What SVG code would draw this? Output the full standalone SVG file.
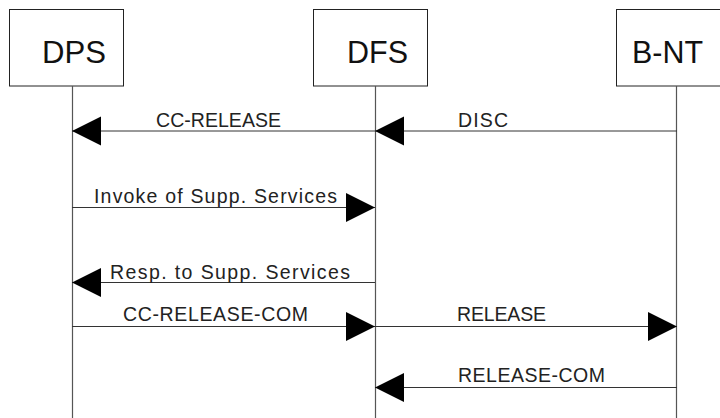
<svg xmlns="http://www.w3.org/2000/svg" width="720" height="418" viewBox="0 0 720 418">
<style>
.box{fill:#fff;stroke:#222;stroke-width:1}
.life{stroke:#555;stroke-width:1.2}
.msg{stroke:#333;stroke-width:1;fill:none;marker-end:url(#ah)}
.ttl{font-family:"Liberation Sans",Arial,sans-serif;font-size:31px;fill:#111}
.lbl{font-family:"Liberation Sans",Arial,sans-serif;font-size:19.5px;fill:#222}
</style>
<defs>
<marker id="ah" markerUnits="userSpaceOnUse" markerWidth="30" markerHeight="30" refX="29" refY="14.5" orient="auto" viewBox="0 0 30 30">
<path d="M0,0 L29,14.5 L0,29 Z" fill="#000"/>
</marker>
</defs>
<rect width="720" height="418" fill="#fff"/>
<g id="node-dps">
<rect class="box" x="9.5" y="9.5" width="114" height="76.5"/>
<text class="ttl" x="42" y="62.5" textLength="64" lengthAdjust="spacingAndGlyphs">DPS</text>
<line class="life" x1="72.5" y1="86" x2="72.5" y2="418"/>
</g>
<g id="node-dfs">
<rect class="box" x="313.5" y="9.5" width="114" height="76.5"/>
<text class="ttl" x="347" y="62.5" textLength="61" lengthAdjust="spacingAndGlyphs">DFS</text>
<line class="life" x1="375.5" y1="86" x2="375.5" y2="418"/>
</g>
<g id="node-bnt">
<rect class="box" x="616.5" y="9.5" width="120" height="76.5"/>
<text class="ttl" x="632" y="62.5" textLength="71" lengthAdjust="spacingAndGlyphs">B-NT</text>
<line class="life" x1="676.5" y1="86" x2="676.5" y2="418"/>
</g>
<g id="connectors">
<line class="msg" x1="375" y1="131" x2="72" y2="131"/>
<line class="msg" x1="677" y1="131" x2="375" y2="131"/>
<line class="msg" x1="72" y1="207.5" x2="375" y2="207.5"/>
<line class="msg" x1="375" y1="282.5" x2="72" y2="282.5"/>
<line class="msg" x1="72" y1="326.5" x2="375" y2="326.5"/>
<line class="msg" x1="375" y1="326.5" x2="677" y2="326.5"/>
<line class="msg" x1="677" y1="387.5" x2="375" y2="387.5"/>
</g>
<g id="labels">
<text class="lbl" x="156" y="126.5" textLength="125" lengthAdjust="spacing">CC-RELEASE</text>
<text class="lbl" x="458" y="126.5" textLength="50" lengthAdjust="spacing">DISC</text>
<text class="lbl" x="94" y="202.5" textLength="243" lengthAdjust="spacing">Invoke of Supp. Services</text>
<text class="lbl" x="110" y="278.5" textLength="240" lengthAdjust="spacing">Resp. to Supp. Services</text>
<text class="lbl" x="123" y="321" textLength="185" lengthAdjust="spacing">CC-RELEASE-COM</text>
<text class="lbl" x="457" y="321" textLength="89" lengthAdjust="spacing">RELEASE</text>
<text class="lbl" x="458" y="381.5" textLength="147" lengthAdjust="spacing">RELEASE-COM</text>
</g>
</svg>
